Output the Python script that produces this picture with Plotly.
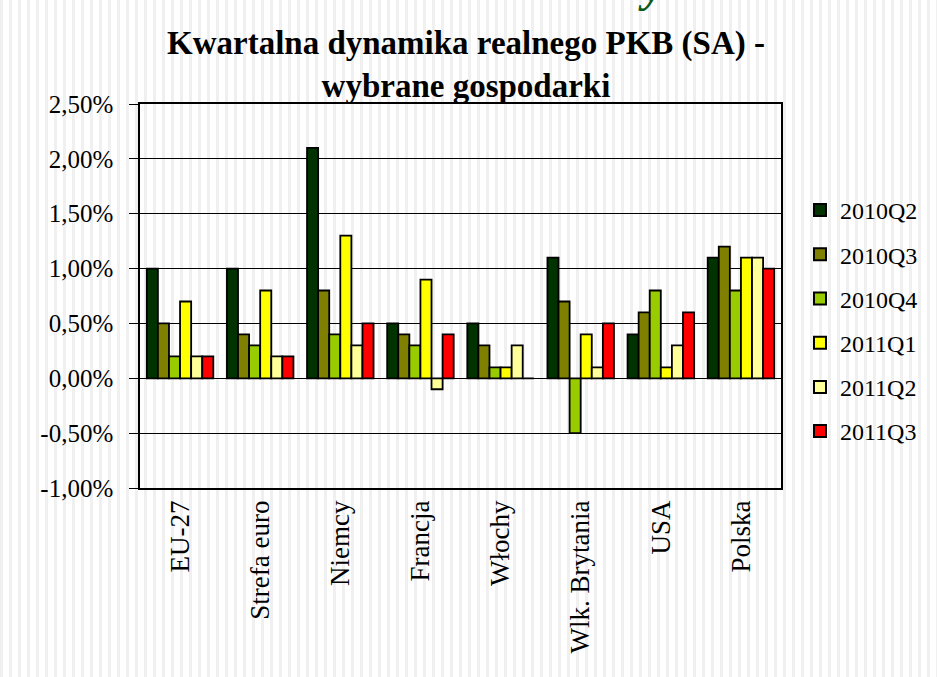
import plotly.graph_objects as go

categories = ["EU-27", "Strefa euro", "Niemcy", "Francja", "Włochy", "Wlk. Brytania", "USA", "Polska"]
series_names = ["2010Q2", "2010Q3", "2010Q4", "2011Q1", "2011Q2", "2011Q3"]
q2010_2 = [1.0, 1.0, 2.1, 0.5, 0.5, 1.1, 0.4, 1.1]
q2010_3 = [0.5, 0.4, 0.8, 0.4, 0.3, 0.7, 0.6, 1.2]
q2010_4 = [0.2, 0.3, 0.4, 0.3, 0.1, -0.5, 0.8, 0.8]
q2011_1 = [0.7, 0.8, 1.3, 0.9, 0.1, 0.4, 0.1, 1.1]
q2011_2 = [0.2, 0.2, 0.3, -0.1, 0.3, 0.1, 0.3, 1.1]
q2011_3 = [0.2, 0.2, 0.5, 0.4, 0.0, 0.5, 0.6, 1.0]
series_values = [q2010_2, q2010_3, q2010_4, q2011_1, q2011_2, q2011_3]
colors = ["#003300", "#808000", "#99cc00", "#ffff00", "#ffff99", "#ff0000"]
y_ticks = [-1.0, -0.5, 0.0, 0.5, 1.0, 1.5, 2.0, 2.5]
y_tick_labels = [f"{v:.2f}%".replace(".", ",") for v in y_ticks]

W, H = 937, 677
L, R, T, B = 140, 781, 104, 488

fig = go.Figure()
for name, vals, col in zip(series_names, series_values, colors):
    fig.add_trace(go.Bar(
        name=name, x=categories, y=vals, legendgroup=name,
        marker=dict(color=col, line=dict(color="black", width=1.8)),
    ))

# striped slide background
shapes = []
pw = R - L
ph = B - T
for px in range(0, W, 9):
    shapes.append(dict(type="rect", xref="paper", yref="paper",
                       x0=(px - L) / pw, x1=(px + 3 - L) / pw,
                       y0=(B - H) / ph, y1=(B - 0) / ph,
                       fillcolor="#f0f0f0", line=dict(width=0), layer="below"))

fig.update_layout(
    width=W, height=H,
    margin=dict(l=L, r=W - R, t=T, b=H - B, autoexpand=False),
    paper_bgcolor="white", plot_bgcolor="rgba(0,0,0,0)",
    barmode="group", bargap=0.17, bargroupgap=0,
    font=dict(family="Liberation Serif", color="black"),
    title=dict(text="<b>Kwartalna dynamika realnego PKB (SA) -<br>wybrane gospodarki</b>",
               x=466 / W, xanchor="center", y=1 - 54 / H, yanchor="middle",
               font=dict(family="Liberation Serif", size=33, color="black")),
    legend=dict(x=(800 - L) / pw, xanchor="left", y=(B - 321) / ph, yanchor="middle",
                font=dict(size=24), tracegroupgap=10, itemsizing="constant",
                itemwidth=30, bgcolor="rgba(0,0,0,0)"),
    shapes=shapes,
    annotations=[dict(text="<b><i>y</i></b>", xref="paper", yref="paper",
                      x=(651 - L) / pw, y=(B + 14) / ph, xanchor="center", yanchor="middle",
                      showarrow=False, font=dict(family="Liberation Serif", size=46, color="#0d5c16"))],
)
fig.update_xaxes(showline=True, linecolor="black", linewidth=1.5, mirror=True,
                 tickangle=-90, tickfont=dict(size=27), ticks="", showgrid=False)
fig.update_yaxes(range=[-1.0, 2.5], tickvals=y_ticks, ticktext=y_tick_labels,
                 tickfont=dict(size=25),
                 showline=True, linecolor="black", linewidth=1.5, mirror=True,
                 ticks="outside", ticklen=9, tickcolor="black", ticklabelstandoff=11,
                 showgrid=True, gridcolor="black", gridwidth=1.2, zeroline=False)

fig.write_html("out.html", config={"displayModeBar": False},
               post_script="document.body.style.margin='0px';")
